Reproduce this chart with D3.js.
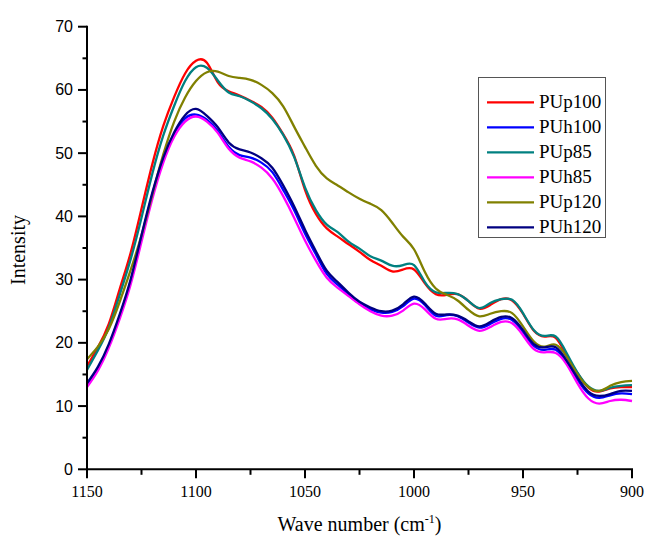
<!DOCTYPE html>
<html><head><meta charset="utf-8">
<script src="https://cdn.jsdelivr.net/npm/d3@7"></script>
<style>body{margin:0;background:#fff;}svg{display:block;}</style>
</head><body>
<svg id="c" width="645" height="536"></svg>
<script>
const wavenumbers = [1150,1145,1140,1135,1130,1125,1120,1115,1110,1105,1100,1095,1090,1085,1080,1075,1070,1065,1060,1055,1050,1045,1040,1035,1030,1025,1020,1015,1010,1005,1000,995,990,985,980,975,970,965,960,955,950,945,940,935,930,925,920,915,910,905,900];
const PUp100 = [16.3,19.3,23.0,28.5,34.2,41.2,48.3,54.3,58.9,62.6,64.6,64.3,61.2,59.8,59.1,58.3,57.3,55.6,53.0,49.6,44.2,40.4,38.1,36.8,35.6,34.4,33.1,32.2,31.3,31.6,31.6,29.4,27.7,27.6,27.7,26.6,25.4,26.0,26.9,26.7,24.6,21.9,21.0,20.8,18.0,15.2,12.9,12.3,12.8,13.0,13.0];
const PUh100 = [13.3,15.9,19.5,24.2,29.7,36.6,43.4,49.0,53.0,55.5,56.1,55.3,53.5,51.0,49.7,49.3,48.5,47.0,44.2,41.0,37.3,34.0,30.9,29.2,27.6,26.2,25.3,24.8,24.9,25.8,27.0,26.0,24.3,24.4,24.2,23.2,22.4,23.0,23.8,23.6,21.7,19.5,18.9,18.9,16.9,14.2,12.0,11.3,11.7,12.0,11.9];
const PUp85 = [15.7,18.8,22.4,27.6,33.2,39.8,46.8,52.8,57.5,61.4,63.6,63.5,61.5,59.6,59.0,58.2,57.1,55.4,52.9,49.4,44.6,41.0,38.7,37.5,36.0,34.9,33.7,33.0,32.2,32.3,32.3,29.6,28.0,27.9,27.7,26.6,25.5,26.3,26.9,26.8,24.7,22.0,21.1,21.0,18.4,15.3,13.1,12.4,12.9,13.2,13.3];
const PUh85 = [13.0,15.6,19.2,23.8,29.2,36.0,42.8,48.5,52.6,55.0,55.8,55.0,53.2,50.7,49.3,48.7,47.7,46.0,43.2,39.8,36.2,33.0,30.3,28.7,27.4,26.1,25.0,24.3,24.3,25.1,26.2,25.3,23.8,23.8,23.7,22.7,21.9,22.5,23.3,23.1,21.2,19.0,18.5,18.4,16.6,13.6,11.2,10.4,10.8,11.0,10.8];
const PUp120 = [17.4,19.4,22.2,26.5,31.5,37.0,43.5,49.8,55.0,58.8,61.4,62.8,62.9,62.2,61.9,61.6,60.8,59.5,57.4,54.2,51.0,48.0,46.0,44.9,43.8,42.8,42.0,41.0,39.0,36.8,34.8,31.2,28.6,27.6,26.7,25.2,24.2,24.6,25.0,24.7,22.6,20.2,19.4,19.7,17.8,15.0,13.0,12.4,13.2,13.8,14.0];
const PUh120 = [13.6,16.2,19.8,24.5,30.0,37.0,43.8,49.3,53.3,56.0,57.0,55.9,54.1,51.7,50.6,50.1,49.2,47.7,44.9,41.6,37.9,34.5,31.4,29.6,27.9,26.5,25.6,25.0,25.1,26.1,27.3,26.2,24.6,24.5,24.3,23.4,22.6,23.3,24.1,23.9,22.0,19.8,19.3,19.3,17.2,14.5,12.3,11.6,11.9,12.4,12.4];
const seriesNames = ["PUp100","PUh100","PUp85","PUh85","PUp120","PUh120"];
const seriesValues = [PUp100,PUh100,PUp85,PUh85,PUp120,PUh120];
const seriesColors = ["#ff0000","#0000ff","#008080","#ff00ff","#808000","#000080"];
const xTicks = [1150,1100,1050,1000,950,900];
const yTicks = [0,10,20,30,40,50,60,70];

const svg = d3.select("#c");
const L = 87, R = 632, T = 26.7, B = 469.3;
const x = d3.scaleLinear().domain([1150,900]).range([L,R]);
const y = d3.scaleLinear().domain([0,70]).range([B,T]);

// lines
const line = d3.line().x(d=>x(d[0])).y(d=>y(d[1])).curve(d3.curveNatural);
seriesValues.forEach((vals,i)=>{
  svg.append("path").datum(wavenumbers.map((w,j)=>[w,vals[j]]))
    .attr("d",line).attr("fill","none").attr("stroke",seriesColors[i])
    .attr("stroke-width",2.3).attr("stroke-linejoin","round");
});

// axes
const ax = svg.append("g").attr("stroke","#000").attr("stroke-width",2);
ax.append("line").attr("x1",L).attr("x2",L).attr("y1",T-1).attr("y2",B+1);
ax.append("line").attr("x1",L-1).attr("x2",R+1).attr("y1",B).attr("y2",B);
d3.range(0,71,5).forEach(v=>{
  const major = v%10===0;
  ax.append("line").attr("x1",L).attr("x2",L-(major?9:4.5)).attr("y1",y(v)).attr("y2",y(v));
});
d3.range(900,1151,25).forEach(v=>{
  const major = v%50===0;
  ax.append("line").attr("y1",B).attr("y2",B+(major?9:5.5)).attr("x1",x(v)).attr("x2",x(v));
});
svg.append("g").selectAll("text").data(yTicks).join("text")
  .attr("x",73).attr("y",d=>y(d)).attr("text-anchor","end").attr("dominant-baseline","central")
  .attr("font-family","Liberation Sans, Arial, sans-serif").attr("font-size",16).text(d=>d);
svg.append("g").selectAll("text").data(xTicks).join("text")
  .attr("x",d=>x(d)).attr("y",497).attr("text-anchor","middle")
  .attr("font-family","Liberation Serif, Times New Roman, serif").attr("font-size",16).text(d=>d);

// axis titles
const xt = svg.append("text").attr("x",(L+R)/2).attr("y",531).attr("text-anchor","middle")
  .attr("font-family","Liberation Serif, Times New Roman, serif").attr("font-size",20);
xt.append("tspan").text("Wave number (cm");
xt.append("tspan").attr("font-size",12).attr("dy",-8).text("-1");
xt.append("tspan").attr("dy",8).text(")");
svg.append("text").attr("transform","translate(25,"+((T+B)/2+2)+") rotate(-90)").attr("text-anchor","middle")
  .attr("font-family","Liberation Serif, Times New Roman, serif").attr("font-size",20).text("Intensity");

// legend
const lg = svg.append("g");
lg.append("rect").attr("x",478.5).attr("y",77.5).attr("width",127).attr("height",160)
  .attr("fill","#fff").attr("stroke","#555").attr("stroke-width",1);
seriesNames.forEach((n,i)=>{
  const yy = 102.3 + i*25;
  lg.append("line").attr("x1",487).attr("x2",534).attr("y1",yy).attr("y2",yy)
    .attr("stroke",seriesColors[i]).attr("stroke-width",2.3);
  lg.append("text").attr("x",539).attr("y",yy+5.5)
    .attr("font-family","Liberation Serif, Times New Roman, serif").attr("font-size",19).text(n);
});
</script>
</body></html>
